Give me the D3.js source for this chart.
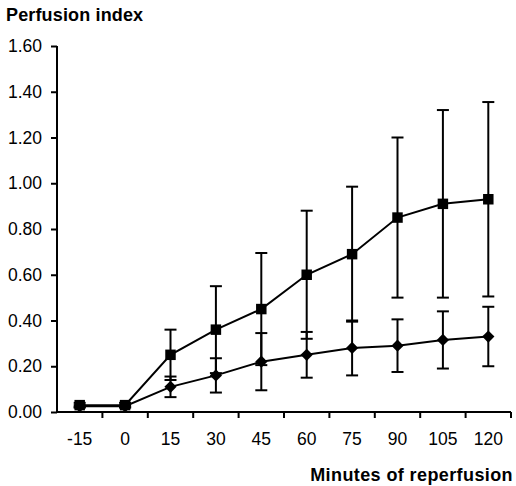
<!DOCTYPE html>
<html>
<head>
<meta charset="utf-8">
<script src="https://cdn.jsdelivr.net/npm/d3@7"></script>
<style>
  body { margin: 0; background: #fff; }
  text { font-family: "Liberation Sans", Arial, sans-serif; fill: #000; }
</style>
</head>
<body>
<div id="chart"></div>
<script>
const width = 516;
const height = 486;

// data
const minutes = ["-15", "0", "15", "30", "45", "60", "75", "90", "105", "120"];
const squareMean = [0.03, 0.03, 0.25, 0.36, 0.45, 0.60, 0.69, 0.85, 0.91, 0.93];
const squareErr = [0.01, 0.01, 0.11, 0.19, 0.245, 0.28, 0.295, 0.35, 0.41, 0.425];
const diamondMean = [0.025, 0.025, 0.11, 0.16, 0.22, 0.25, 0.28, 0.29, 0.315, 0.33];
const diamondErr = [0.005, 0.005, 0.045, 0.075, 0.125, 0.10, 0.12, 0.115, 0.125, 0.13];
const yTicks = [0, 0.2, 0.4, 0.6, 0.8, 1.0, 1.2, 1.4, 1.6];

const svg = d3.select("#chart")
  .append("svg")
  .attr("width", width)
  .attr("height", height);

const x = d3.scaleBand()
  .domain(minutes)
  .range([57, 511])
  .paddingInner(0)
  .paddingOuter(0);

const y = d3.scaleLinear()
  .domain([0, 1.6])
  .range([412, 46]);

const cx = d => x(d) + x.bandwidth() / 2;

// y axis
const yAxis = svg.append("g")
  .attr("transform", "translate(57,0)")
  .call(d3.axisLeft(y)
    .tickValues(yTicks)
    .tickFormat(d3.format(".2f"))
    .tickSize(6)
    .tickPadding(9));
yAxis.selectAll("line").attr("stroke-width", 2);
yAxis.select(".domain").attr("stroke-width", 2).attr("d", `M0,${y(1.6)}V${y(0)}`);
yAxis.selectAll("text").attr("font-size", 17.5).attr("font-family", "Liberation Sans, Arial, sans-serif");

// x axis: labels centered in bands, ticks on band boundaries
const xAxis = svg.append("g")
  .attr("transform", "translate(0,412)")
  .call(d3.axisBottom(x).tickSize(0).tickPadding(21));
xAxis.select(".domain").attr("stroke-width", 2).attr("d", `M${x.range()[0]},0H${x.range()[1]}`);
xAxis.selectAll("text").attr("font-size", 17.5).attr("font-family", "Liberation Sans, Arial, sans-serif");

svg.append("g")
  .selectAll("line")
  .data(minutes.slice(1).concat(["end"]))
  .enter().append("line")
  .attr("x1", d => d === "end" ? x.range()[1] : x(d))
  .attr("x2", d => d === "end" ? x.range()[1] : x(d))
  .attr("y1", 412)
  .attr("y2", 418)
  .attr("stroke", "#000")
  .attr("stroke-width", 2);

function drawSeries(mean, err, symbolType, size, rotate) {
  const pts = minutes.map((m, i) => ({ m: m, v: mean[i], e: err[i] }));

  const g = svg.append("g");

  g.append("path")
    .datum(pts)
    .attr("fill", "none")
    .attr("stroke", "#000")
    .attr("stroke-width", 2)
    .attr("d", d3.line().x(d => cx(d.m)).y(d => y(d.v)));

  const eb = g.selectAll(".eb")
    .data(pts)
    .enter().append("g");

  eb.append("line")
    .attr("x1", d => cx(d.m))
    .attr("x2", d => cx(d.m))
    .attr("y1", d => y(d.v + d.e))
    .attr("y2", d => y(d.v - d.e))
    .attr("stroke", "#000")
    .attr("stroke-width", 2);

  [1, -1].forEach(s => {
    eb.append("line")
      .attr("x1", d => cx(d.m) - 6)
      .attr("x2", d => cx(d.m) + 6)
      .attr("y1", d => y(d.v + s * d.e))
      .attr("y2", d => y(d.v + s * d.e))
      .attr("stroke", "#000")
      .attr("stroke-width", 2);
  });

  g.selectAll(".mk")
    .data(pts)
    .enter().append("path")
    .attr("d", d3.symbol().type(symbolType).size(size))
    .attr("transform", d => `translate(${cx(d.m)},${y(d.v)}) rotate(${rotate})`)
    .attr("fill", "#000");
}

drawSeries(diamondMean, diamondErr, d3.symbolSquare, 75, 45);
drawSeries(squareMean, squareErr, d3.symbolSquare, 110, 0);

svg.append("text")
  .attr("x", 6)
  .attr("y", 21)
  .attr("font-size", 18)
  .attr("font-weight", "bold")
  .attr("letter-spacing", 0.15)
  .text("Perfusion index");

svg.append("text")
  .attr("x", 513)
  .attr("y", 481)
  .attr("text-anchor", "end")
  .attr("font-size", 18)
  .attr("font-weight", "bold")
  .attr("letter-spacing", 0.4)
  .text("Minutes of reperfusion");
</script>
</body>
</html>
